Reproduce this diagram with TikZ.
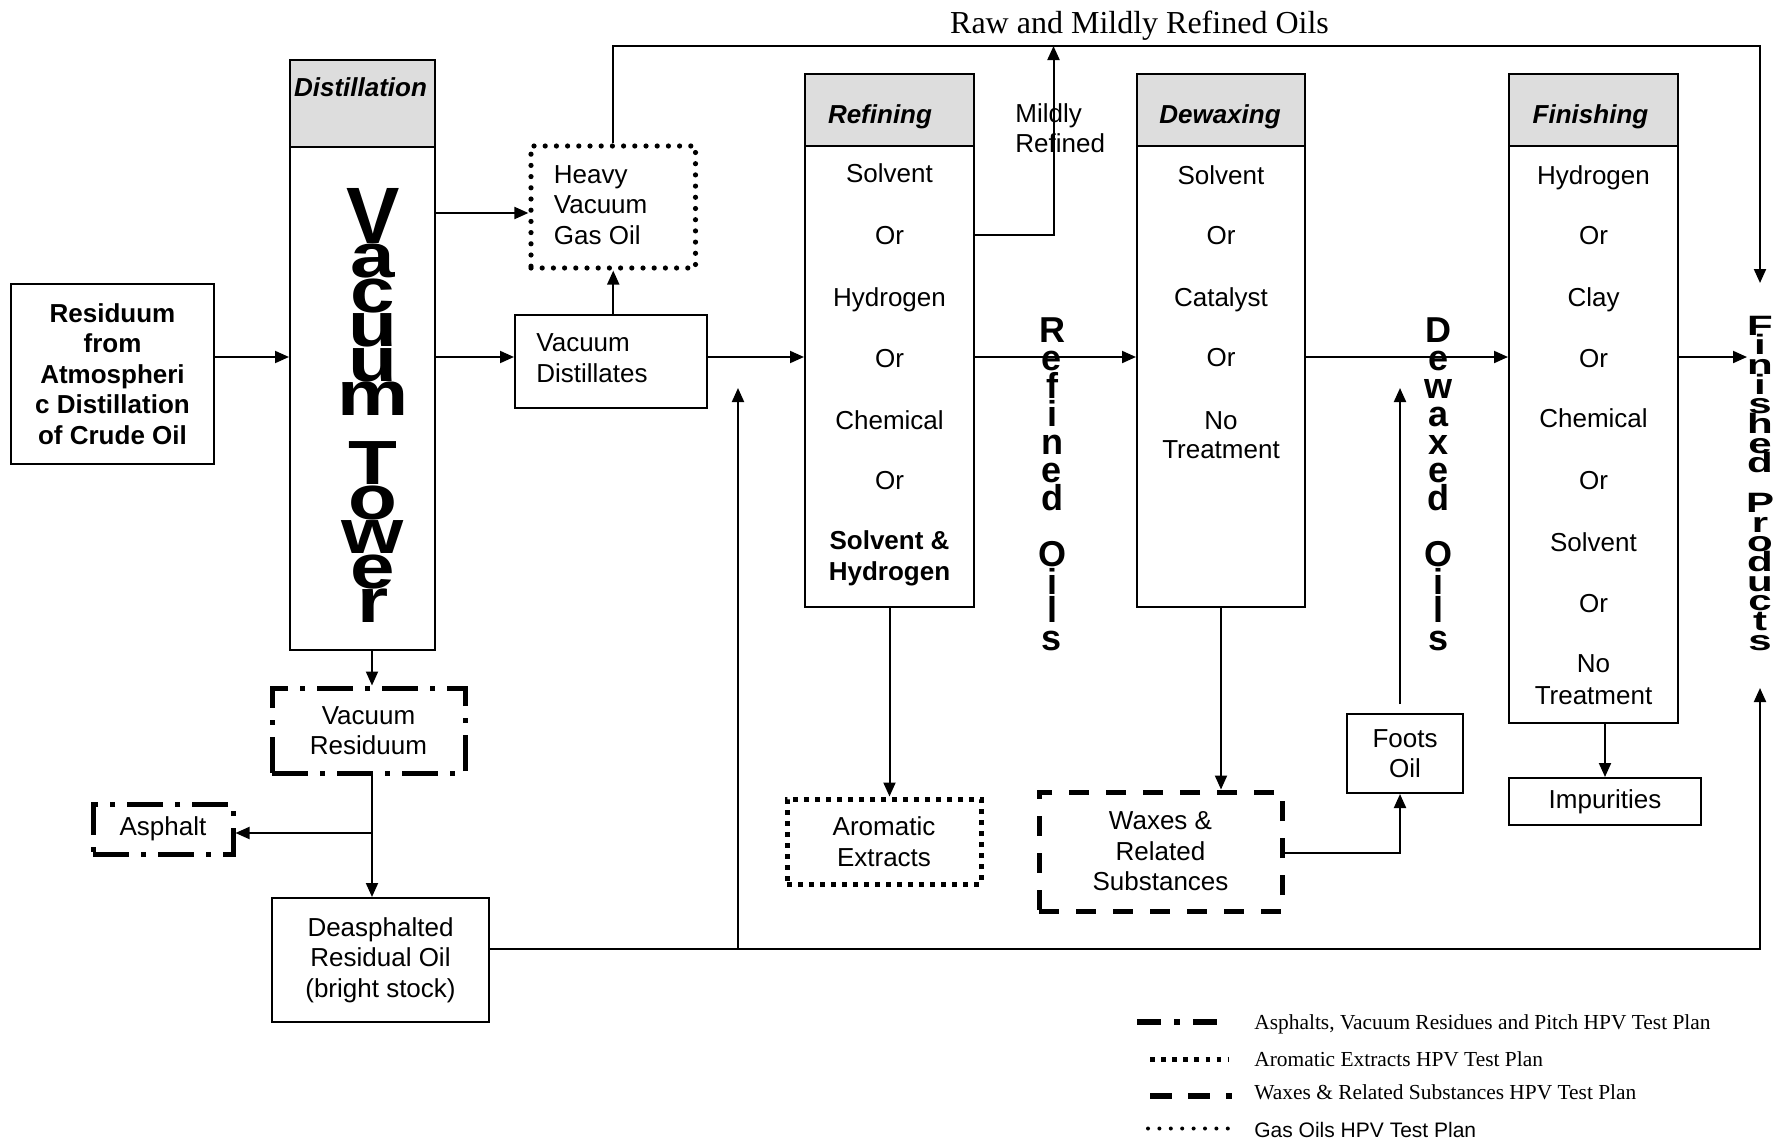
\documentclass[tikz,border=0pt]{standalone}
\usepackage{fontspec}
\setmainfont{Liberation Sans}
\newfontfamily\tnr{Liberation Serif}
\usetikzlibrary{arrows.meta}
\definecolor{hdr}{HTML}{DDDDDD}
\tikzset{
  arr/.style={line width=1pt, -{Triangle[length=7pt,width=6pt]}},
  box/.style={draw, line width=1pt, rectangle, inner sep=0pt, align=center, font=\fontsize{13}{15.25}\selectfont},
  hdrbox/.style={box, fill=hdr},
  txt/.style={inner sep=0pt, font=\fontsize{13}{15.25}\selectfont},
  hd/.style={inner sep=0pt, font=\fontsize{13}{15.25}\selectfont\bfseries\itshape},
  bigl/.style={inner sep=0pt, anchor=base, font=\fontsize{40}{40}\selectfont\bfseries},
  midl/.style={inner sep=0pt, anchor=base, font=\fontsize{18}{18}\selectfont\bfseries},
  smll/.style={inner sep=0pt, anchor=base, font=\fontsize{14}{14}\selectfont\bfseries},
  dashdotbox/.style={box, line width=2.5pt, dash pattern=on 18pt off 6pt on 2.5pt off 6pt},
  waxbox/.style={box, line width=2.5pt, dash pattern=on 10pt off 8.5pt},
  sqdotbox/.style={box, line width=2.5pt, dash pattern=on 2.5pt off 3pt},
  rdotbox/.style={box, line width=2.6pt, line cap=round, dash pattern=on 0pt off 5.6pt},
  legt/.style={inner sep=0pt, anchor=base west, font=\tnr\fontsize{10.7}{12}\selectfont},
}
\begin{document}
\begin{tikzpicture}[x=0.5pt,y=-0.5pt]
\fill[white] (0,0) rectangle (1779,1140);
\useasboundingbox (0,0) rectangle (1779,1140);

% title
\node[inner sep=0pt, anchor=base, font=\tnr\fontsize{16}{16}\selectfont] (title) at (1139.5,33) {Raw and Mildly Refined Oils};

% residuum
\node[box, minimum width=101.5pt, minimum height=90pt, font=\fontsize{13}{15.25}\selectfont\bfseries] (res) at (112.5,374) {Residuum\\from\\Atmospheri\\c Distillation\\of Crude Oil};

% distillation tower
\node[hdrbox, minimum width=72.5pt, minimum height=43.5pt] (towh) at (362.5,103.5) {};
\node[box, minimum width=72.5pt, minimum height=251.5pt] (towb) at (362.5,398.5) {};
\node[hd] (towl) at (360.5,87) {Distillation};
\node[bigl] (vt0) at (373,243) {V};
\foreach \l [count=\i from 1] in {a,c,u,u,m,{},T,o,w,e,r}
  \node[bigl] (vt\i) at (373,{243+34.5*\i}) {\scalebox{1}[0.78]{\l}};

% HVGO and vacuum distillates
\node[rdotbox, minimum width=82.25pt, minimum height=61pt] (hvgo) at (613.25,207) {};
\node[txt, anchor=west, align=left] (hvgot) at (553.5,205) {Heavy\\Vacuum\\Gas Oil};
\node[box, minimum width=96pt, minimum height=46.5pt] (vd) at (611,361.5) {};
\node[txt, anchor=west, align=left] (vdt) at (536,358) {Vacuum\\Distillates};

% refining
\node[hdrbox, minimum width=84.5pt, minimum height=36pt] (refh) at (889.5,110) {};
\node[box, minimum width=84.5pt, minimum height=230.5pt] (refb) at (889.5,376.5) {};
\node[hd] (refl) at (880,117) {Refining};
\foreach \t/\yy [count=\i] in {Solvent/173,Or/235,Hydrogen/297,Or/358,Chemical/420,Or/480}
  \node[txt, anchor=base] (ri\i) at (889.5,{\yy+9}) {\t};
\node[txt, align=center, font=\fontsize{13}{15.5}\selectfont\bfseries] (ri7) at (889.5,558) {Solvent \&\\Hydrogen};
\node[txt, anchor=west, align=left] (mild) at (1015,128) {Mildly\\Refined};

% dewaxing
\node[hdrbox, minimum width=84pt, minimum height=36pt] (dewh) at (1221,110) {};
\node[box, minimum width=84pt, minimum height=230.5pt] (dewb) at (1221,376.5) {};
\node[hd] (dewl) at (1220,117) {Dewaxing};
\foreach \t/\yy [count=\i] in {Solvent/175,Or/235,Catalyst/297,Or/357}
  \node[txt, anchor=base] (di\i) at (1221,{\yy+9}) {\t};
\node[txt, align=center, font=\fontsize{13}{14.5}\selectfont] (di5) at (1221,435) {No\\Treatment};

% finishing
\node[hdrbox, minimum width=84.5pt, minimum height=36pt] (finh) at (1593.5,110) {};
\node[box, minimum width=84.5pt, minimum height=288.5pt] (finb) at (1593.5,434.5) {};
\node[hd] (finl) at (1590.5,117) {Finishing};
\foreach \t/\yy [count=\i] in {Hydrogen/175,Or/235,Clay/297,Or/358,Chemical/418,Or/480,Solvent/542,Or/603}
  \node[txt, anchor=base] (fi\i) at (1593.5,{\yy+9}) {\t};
\node[txt, align=center, font=\fontsize{13}{16}\selectfont] (fi9) at (1593.5,680) {No\\Treatment};

% lower boxes
\node[box, minimum width=96pt, minimum height=23.5pt] (imp) at (1605,801.5) {Impurities};
\node[box, minimum width=58pt, minimum height=39.5pt] (foots) at (1405,753.5) {Foots\\Oil};
\node[waxbox, minimum width=121.5pt, minimum height=59.5pt] (wax) at (1160.5,851.5) {Waxes \&\\Related\\Substances};
\node[sqdotbox, minimum width=97pt, minimum height=42.5pt] (arom) at (884,841.5) {Aromatic\\Extracts};
\node[dashdotbox, minimum width=96.5pt, minimum height=42.5pt] (vres) at (368.5,730.5) {Vacuum\\Residuum};
\node[dashdotbox, minimum width=70pt, minimum height=25pt] (asph) at (163,829) {Asphalt};
\node[box, minimum width=108.5pt, minimum height=62pt] (deas) at (380.5,960) {Deasphalted\\Residual Oil\\(bright stock)};

% vertical stacked labels
\foreach \l [count=\i from 0] in {R,e,f,i,n,e,d,{},O,i,l,s}
  \node[midl] (ro\i) at (1052,{342+28*\i}) {\l};
\foreach \l [count=\i from 0] in {D,e,w,a,x,e,d,{},O,i,l,s}
  \node[midl] (do\i) at (1438,{342+28*\i}) {\l};
\foreach \l [count=\i from 0] in {F,i,n,i,s,h,e,d,{},P,r,o,d,u,c,t,s}
  \node[smll] (fp\i) at (1760,{335+19.7*\i}) {\scalebox{1.5}[1]{\l}};

% coordinates
\coordinate (main) at (0,357);
\coordinate (yh) at (0,213);
\coordinate (topy) at (0,46);
\coordinate (fpA) at (1760,283);
\coordinate (ym) at (0,235);
\coordinate (mx) at (1053.5,0);
\coordinate (yw) at (0,853);
\coordinate (fx) at (1400,0);
\coordinate (fTop) at (1400,704);
\coordinate (fTip) at (1400,388);
\coordinate (fpIn) at (1747,357);
\coordinate (cx) at (372,0);
\coordinate (ya) at (0,833);
\coordinate (yb) at (0,949);
\coordinate (fpB) at (1760,688);
\coordinate (jx) at (738,0);
\coordinate (jTip) at (738,388);

% connectors
\draw[arr] (res.east |- main) -- (towb.west |- main);
\draw[arr] (towb.east |- yh) -- (hvgo.west |- yh);
\draw[arr] (towb.east |- main) -- (vd.west |- main);
\draw[arr] (hvgo.south |- vd.north) -- (hvgo.south);
\draw[arr] (hvgo.north) |- (fpA |- topy) -- (fpA);
\draw[arr] (vd.east |- main) -- (refb.west |- main);
\draw[arr] (refb.east |- ym) -| (mx |- topy);
\draw[arr] (refb.east |- main) -- (dewb.west |- main);
\draw[arr] (refb.south) -- (refb.south |- arom.north);
\draw[arr] (dewb.south) -- (dewb.south |- wax.north);
\draw[arr] (wax.east |- yw) -| (fx |- foots.south);
\draw[arr] (fTop) -- (fTip);
\draw[arr] (dewb.east |- main) -- (finb.west |- main);
\draw[arr] (finb.east |- main) -- (fpIn);
\draw[arr] (finb.south -| imp.north) -- (imp.north);
\draw[arr] (cx |- towb.south) -- (cx |- vres.north);
\draw[arr] (cx |- vres.south) -- (cx |- deas.north);
\draw[arr] (cx |- ya) -- (asph.east |- ya);
\draw[arr] (deas.east |- yb) -| (fpB);
\draw[arr] (jx |- yb) -- (jTip);

% legend
\draw[line width=2.8pt, dash pattern=on 12pt off 6.5pt on 3pt off 6.5pt] (1137,1022) -- (1217,1022);
\node[legt] (lg1) at (1254,1029) {Asphalts, Vacuum Residues and Pitch HPV Test Plan};
\draw[line width=2.4pt, dash pattern=on 2.4pt off 3.15pt] (1150,1059.5) -- (1228,1059.5);
\node[legt] (lg2) at (1254,1066) {Aromatic Extracts HPV Test Plan};
\draw[line width=2.8pt, dash pattern=on 11pt off 8pt] (1150,1096) -- (1232,1096);
\node[legt] (lg3) at (1254,1099) {Waxes \& Related Substances HPV Test Plan};
\draw[line width=2pt, line cap=round, dash pattern=on 0pt off 5.7pt] (1148,1128.5) -- (1228,1128.5);
\node[inner sep=0pt, anchor=base west, font=\fontsize{10.5}{12}\selectfont] (lg4) at (1254,1137) {Gas Oils HPV Test Plan};
\end{tikzpicture}
\end{document}
